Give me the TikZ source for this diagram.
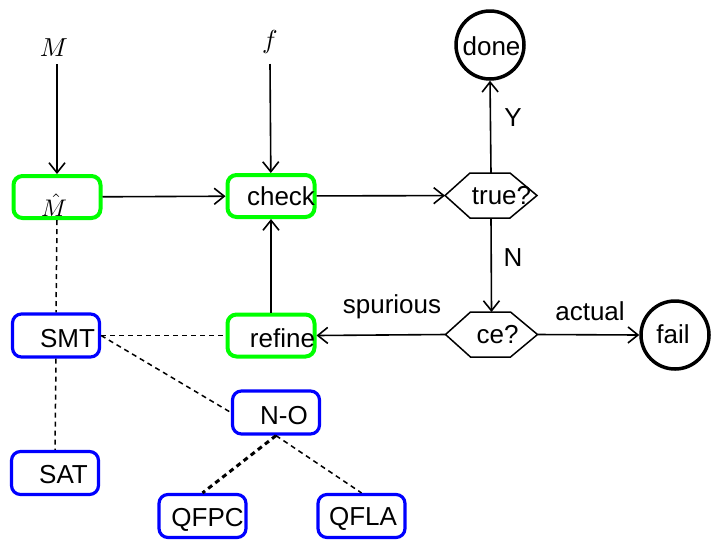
\documentclass[tikz,border=0pt]{standalone}
\usepackage{graphicx}
\usepackage{fontspec}
\setmainfont{Liberation Sans}
\usetikzlibrary{arrows.meta}

\begin{document}
\begin{tikzpicture}[x=1pt,y=-1pt,
  font=\fontsize{26}{30}\selectfont,
  gbox/.style={draw={rgb,255:red,0;green,255;blue,0}, line width=4pt, rounded corners=9pt,
    minimum width=87pt, minimum height=42pt, inner sep=0pt},
  bbox/.style={draw={rgb,255:red,0;green,0;blue,255}, line width=3.2pt, rounded corners=9pt,
    minimum width=87pt, minimum height=43pt, inner sep=0pt},
  endcirc/.style={draw, circle, line width=3.5pt, minimum size=68pt, inner sep=0pt},
  hexnode/.style={minimum width=92pt, minimum height=45pt, inner sep=0pt, outer sep=0pt},
  hexline/.style={line width=1.5pt, line join=miter},
  lbl/.style={anchor=base, inner sep=0pt},
  mlbl/.style={anchor=base, inner sep=0pt, font=\normalsize},
  flow/.style={line width=1.6pt, -{Straight Barb[length=10pt,width=16pt,line width=1.6pt]}},
  link/.style={line width=1.5pt, dash pattern=on 5pt off 4pt},
  thicklink/.style={line width=3pt, dash pattern=on 5pt off 4pt}]

\useasboundingbox (0,0) rectangle (711,539);

% inputs
\node[mlbl] (Min) at (54,56.5) {\scalebox{2.6}{$M$}};
\node[mlbl] (fin) at (270,48) {\scalebox{2.6}{$f$}};
\coordinate (Mtop) at (57,64);
\coordinate (ftop) at (270,64);

% process boxes
\node[gbox] (Mhat) at (57,197) {};
\node[gbox] (check) at (271,196) {};
\node[gbox] (refine) at (271,335.5) {};

% solver boxes
\node[bbox] (SMT) at (56,335.5) {};
\node[bbox] (NO) at (276,412.5) {};
\node[bbox] (SAT) at (55,473) {};
\node[bbox] (QFPC) at (202.5,516) {};
\node[bbox] (QFLA) at (361.5,516) {};

% decisions
\node[hexnode] (true) at (491,195.5) {};
\node[hexnode] (ce) at (491.5,334.5) {};
\draw[hexline] (true.west) -- ([xshift=25pt]true.north west) -- ([xshift=-27pt]true.north east)
  -- (true.east) -- ([xshift=-27pt]true.south east) -- ([xshift=25pt]true.south west) -- cycle;
\draw[hexline] (ce.west) -- ([xshift=25pt]ce.north west) -- ([xshift=-27pt]ce.north east)
  -- (ce.east) -- ([xshift=-27pt]ce.south east) -- ([xshift=25pt]ce.south west) -- cycle;

% outcomes
\node[endcirc] (done) at (490,45) {};
\node[endcirc] (fail) at (675,335) {};

% texts inside the shapes
\node[mlbl] at (54,216.5) {\scalebox{2.4}{$\hat{M}$}};
\node[lbl] at (281,205) {check};
\node[lbl] at (282.5,347.5) {refine};
\node[lbl] at (67.5,347) {SMT};
\node[lbl] at (284,424) {N-O};
\node[lbl] at (63.5,483) {SAT};
\node[lbl] at (207.5,526) {QFPC};
\node[lbl] at (363,525) {QFLA};
\node[lbl] at (501.5,204) {true?};
\node[lbl] at (497.5,343) {ce?};
\node[lbl] at (491.5,55) {done};
\node[lbl] at (673,343) {fail};

% flow arrows
\draw[flow] (Mtop) -- (Mhat);
\draw[flow] (ftop) -- (check);
\draw[flow] (Mhat) -- (check);
\draw[flow] (check) -- (true);
\draw[flow] (true.north) -- (done.south);
\draw[flow] (true.south) -- (ce.north);
\draw[flow] (ce.west) -- (refine.east);
\draw[flow] (ce.east) -- (fail.west);
\draw[flow] (refine) -- (check);

% edge labels
\node[lbl] at (513,126) {Y};
\node[lbl] at (513,266) {N};
\node[lbl] at (392,313) {spurious};
\node[lbl] at (590,320) {actual};

% solver links
\draw[link] (Mhat.south) -- (SMT.north);
\draw[link] (SMT.east) -- (refine.west);
\draw[link] (SMT.east) -- (NO.west);
\draw[link] (SMT.south) -- (SAT.north);
\draw[thicklink] (NO.south) -- (QFPC.north);
\draw[link] (NO.south) -- (QFLA.north);
\end{tikzpicture}
\end{document}
